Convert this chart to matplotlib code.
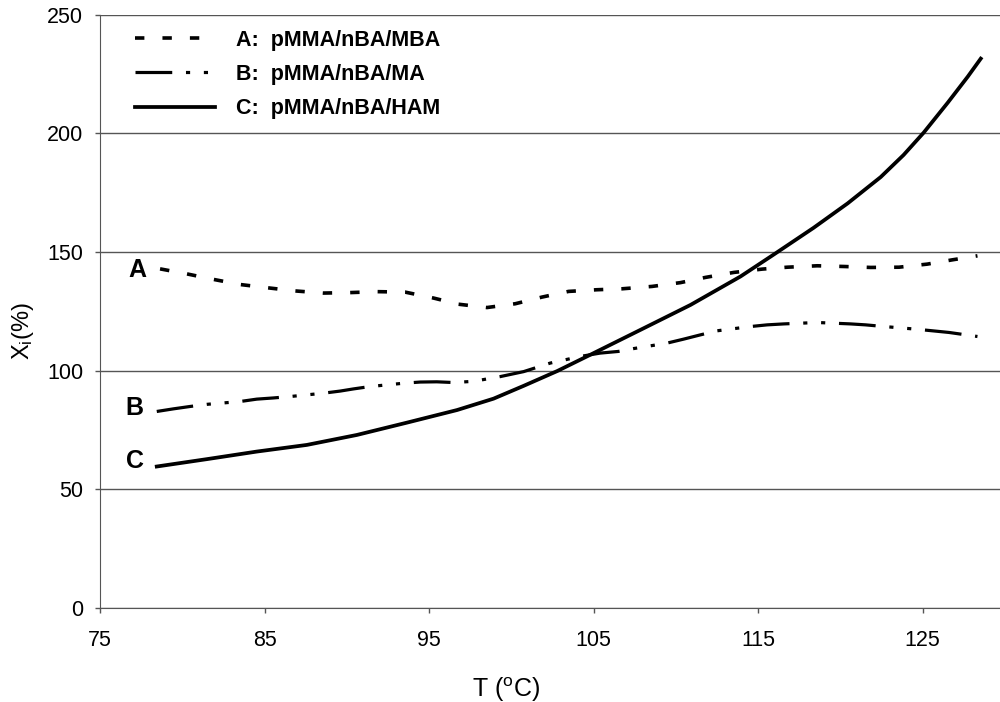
import numpy as np
import matplotlib.pyplot as plt

plt.rcParams['font.family'] = 'Liberation Sans'
plt.rcParams['mathtext.fontset'] = 'custom'
plt.rcParams['mathtext.rm'] = 'Liberation Sans'
plt.rcParams['mathtext.it'] = 'Liberation Sans:italic'

# temperature (C) and swelling ratio X_i (%) for the three networks
t_a = [78.65, 80.27, 81.79, 83.52, 85.34, 86.86, 88.58, 90.2, 91.83, 93.55, 95.27,
       96.79, 98.52, 100.24, 101.86, 103.48, 105.2, 106.73, 108.55, 110.28, 111.8,
       113.52, 115.25, 116.77, 118.59, 120.21, 121.84, 123.56, 125.28, 126.8, 128.33]
x_a = [142.9, 140.8, 138.6, 136.3, 134.8, 133.6, 132.7, 132.9, 133.3, 133.1, 130.6,
       128.0, 126.6, 128.2, 131.0, 133.4, 134.1, 134.5, 135.5, 137.1, 139.3,
       141.4, 142.8, 143.6, 144.2, 143.9, 143.5, 143.6, 144.9, 146.7, 148.4]

t_b = [78.45, 79.46, 80.47, 81.49, 83.52, 84.53, 85.54, 86.56, 88.58, 89.6, 90.4,
       91.4, 93.45, 94.46, 95.47, 96.48, 97.7, 99.33, 100.75, 102.37, 104.2, 105.4,
       106.5, 107.43, 109.46, 110.48, 111.5, 112.51, 114.54, 115.55, 116.56, 118.59,
       119.6, 120.62, 121.53, 122.65, 124.57, 125.59, 126.6, 128.33]
x_b = [82.8, 83.9, 84.9, 85.8, 87.0, 88.0, 88.5, 89.1, 90.5, 91.4, 92.3,
       93.3, 94.7, 95.2, 95.3, 95.0, 95.5, 97.5, 99.6, 103.2, 106.0, 107.4,
       108.1, 109.3, 111.6, 113.3, 115.1, 116.8, 118.6, 119.3, 119.7, 120.3,
       120.0, 119.7, 119.3, 118.6, 117.5, 116.8, 116.1, 114.4]

t_c = [78.45, 81.49, 84.53, 87.57, 90.61, 93.66, 96.7, 98.92, 100.75, 102.78, 104.8,
       107.85, 110.89, 113.93, 115.94, 118.37, 120.44, 122.45, 123.84, 125.06, 126.52,
       127.74, 128.53]
x_c = [59.6, 62.7, 65.9, 68.7, 72.9, 78.1, 83.4, 88.2, 93.6, 99.8, 106.7,
       117.2, 127.7, 139.7, 148.9, 160.2, 170.5, 181.6, 190.9, 200.3, 212.9,
       223.9, 231.5]

names = ['A:  pMMA/nBA/MBA', 'B:  pMMA/nBA/MA', 'C:  pMMA/nBA/HAM']
tags = ['A', 'B', 'C']
tag_pos = [(77.25, 142.5), (77.1, 84.3), (77.1, 62.0)]

xticks = [75, 85, 95, 105, 115, 125]
yticks = [0, 50, 100, 150, 200, 250]

fig = plt.figure(figsize=(10, 7.02), dpi=100)
ax = fig.add_axes([0.1, 0.134, 0.9, 0.845])

ax.plot(t_a, x_a, color='black', lw=2.6, linestyle=(0, (2.6, 5.0)),
        dash_capstyle='butt', label=names[0])
ax.plot(t_b, x_b, color='black', lw=2.3, linestyle=(0, (11.5, 4.3, 1.3, 4.3, 1.3, 4.3)),
        dash_capstyle='butt', label=names[1])
ax.plot(t_c, x_c, color='black', lw=2.7, label=names[2])

for tag, (tx, ty) in zip(tags, tag_pos):
    ax.text(tx, ty, tag, fontsize=18, fontweight='bold', ha='center', va='center')

ax.set_xlim(75, 129.7)
ax.set_ylim(0, 250)
ax.set_xticks(xticks)
ax.set_yticks(yticks)
ax.tick_params(labelsize=15.5, length=3.6, width=1, color='#555555')
ax.tick_params(axis='x', pad=12.5)
ax.tick_params(axis='y', pad=8.6)
ax.yaxis.grid(True, color='#555555', lw=1)
ax.set_axisbelow(True)
for s in ['top', 'right']:
    ax.spines[s].set_visible(False)
for s in ['left', 'bottom']:
    ax.spines[s].set_color('#555555')

ax.set_xlabel(r'T ($^{\rm o}$C)', fontsize=18)
ax.xaxis.set_label_coords(0.451, -0.113)
ax.set_ylabel(r'X$_{\rm i}$(%)', fontsize=17)
ax.yaxis.set_label_coords(-0.071, 0.467)

leg = ax.legend(loc='upper left', bbox_to_anchor=(0.039, 0.975), frameon=False,
                borderpad=0, borderaxespad=0,
                handlelength=3.7, handletextpad=1.0, labelspacing=0.62,
                prop={'size': 15.5, 'weight': 'bold'})

fig.savefig('out.png', dpi=100)
